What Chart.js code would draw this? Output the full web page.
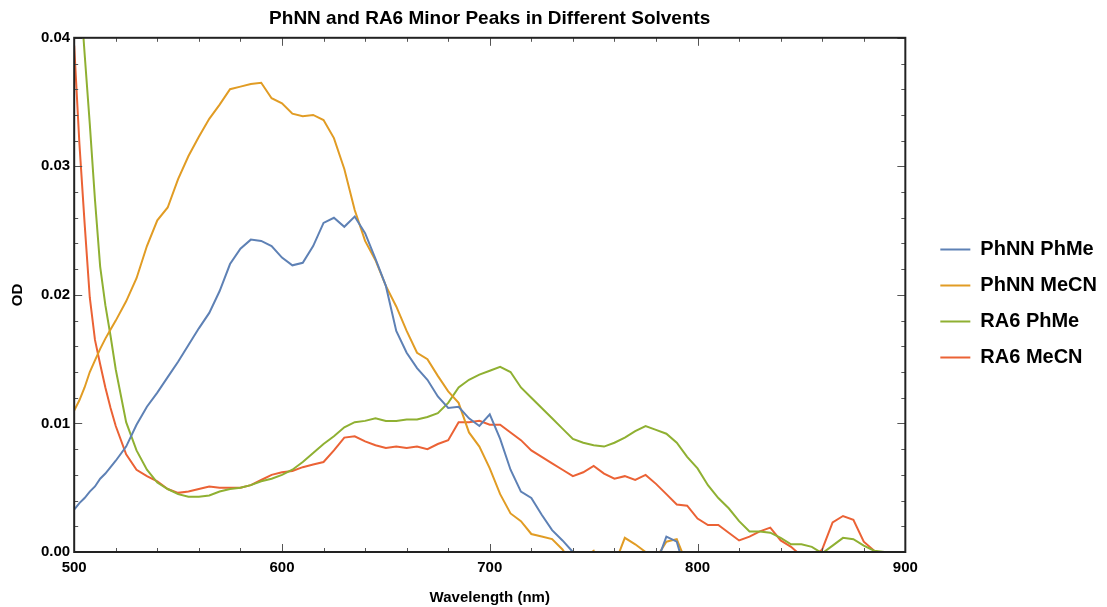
<!DOCTYPE html>
<html>
<head>
<meta charset="utf-8">
<script src="https://cdn.jsdelivr.net/npm/chart.js@4.4.1/dist/chart.umd.min.js"></script>
<style>
  body { margin: 0; background: #fff; }
  #wrap { width: 1107px; height: 607px; }
</style>
</head>
<body>
<div id="wrap"><canvas id="myChart" width="1107" height="607"></canvas></div>
<script>
// wavelength grid (nm)
const wavelengths = [500, 502.5, 505, 507.5, 510, 512.5, 515, 517.5, 520,
  525, 530, 535, 540, 545, 550, 555, 560, 565, 570, 575, 580, 585, 590, 595,
  600, 605, 610, 615, 620, 625, 630, 635, 640, 645, 650, 655, 660, 665, 670, 675,
  680, 685, 690, 695, 700, 705, 710, 715, 720, 725, 730, 735, 740, 745, 750, 755,
  760, 765, 770, 775, 780, 785, 790, 795, 800, 805, 810, 815, 820, 825, 830, 835,
  840, 845, 850, 855, 860, 865, 870, 875, 880, 885, 890, 895, 900];

const phnnPhMe = [0.0033, 0.0038, 0.0042, 0.0047, 0.0051, 0.0057, 0.0061, 0.0066, 0.0071,
  0.0082, 0.0099, 0.0113, 0.0124, 0.0136, 0.0148, 0.0161, 0.0174, 0.0186, 0.0203, 0.0224, 0.0236, 0.0243, 0.0242, 0.0238,
  0.0229, 0.0223, 0.0225, 0.0238, 0.0256, 0.0260, 0.0253, 0.0261, 0.0248, 0.0228, 0.0207, 0.0172, 0.0155, 0.0143, 0.0134, 0.0121,
  0.0112, 0.0113, 0.0104, 0.0098, 0.0107, 0.0088, 0.0064, 0.0047, 0.0042, 0.0029, 0.0017, 0.0009, 0.0000, -0.0010, -0.0020, -0.0025,
  -0.0030, -0.0030, -0.0025, -0.0020, -0.0010, 0.0012, 0.0008, -0.0020, -0.0030, -0.0035, -0.0040, -0.0040, -0.0045, -0.0045, -0.0050, -0.0050,
  -0.0050, -0.0050, -0.0050, -0.0050, -0.0050, -0.0050, -0.0050, -0.0050, -0.0050, -0.0050, -0.0050, -0.0050, -0.0050];

const phnnMeCN = [0.0110, 0.0118, 0.0128, 0.0140, 0.0149, 0.0158, 0.0166, 0.0173, 0.0180,
  0.0195, 0.0213, 0.0238, 0.0258, 0.0268, 0.0290, 0.0308, 0.0323, 0.0337, 0.0348, 0.0360, 0.0362, 0.0364, 0.0365, 0.0353,
  0.0349, 0.0341, 0.0339, 0.0340, 0.0336, 0.0322, 0.0298, 0.0266, 0.0242, 0.0227, 0.0207, 0.0191, 0.0172, 0.0155, 0.0150, 0.0137,
  0.0125, 0.0116, 0.0093, 0.0082, 0.0065, 0.0045, 0.0030, 0.0024, 0.0014, 0.0012, 0.0010, 0.0002, -0.0010, -0.0005, 0.0001, -0.0020,
  -0.0010, 0.0011, 0.0006, 0.0000, -0.0005, 0.0008, 0.0010, -0.0010, -0.0030, -0.0035, -0.0040, -0.0040, -0.0045, -0.0045, -0.0050, -0.0050,
  -0.0050, -0.0050, -0.0050, -0.0050, -0.0050, -0.0050, -0.0050, -0.0050, -0.0050, -0.0050, -0.0050, -0.0050, -0.0050];

const ra6PhMe = [0.0500, 0.0445, 0.0388, 0.0333, 0.0274, 0.0222, 0.0192, 0.0168, 0.0142,
  0.0101, 0.0079, 0.0064, 0.0054, 0.0049, 0.0045, 0.0043, 0.0043, 0.0044, 0.0047, 0.0049, 0.0050, 0.0052, 0.0055, 0.0057,
  0.0060, 0.0064, 0.0070, 0.0077, 0.0084, 0.0090, 0.0097, 0.0101, 0.0102, 0.0104, 0.0102, 0.0102, 0.0103, 0.0103, 0.0105, 0.0108,
  0.0116, 0.0128, 0.0134, 0.0138, 0.0141, 0.0144, 0.0140, 0.0128, 0.0120, 0.0112, 0.0104, 0.0096, 0.0088, 0.0085, 0.0083, 0.0082,
  0.0085, 0.0089, 0.0094, 0.0098, 0.0095, 0.0092, 0.0085, 0.0074, 0.0065, 0.0052, 0.0042, 0.0034, 0.0024, 0.0016, 0.0016, 0.0015,
  0.0011, 0.0006, 0.0006, 0.0004, -0.0001, 0.0005, 0.0011, 0.0010, 0.0005, 0.0001, 0.0000, -0.0002, -0.0005];

const ra6MeCN = [0.0394, 0.0318, 0.0256, 0.0198, 0.0165, 0.0146, 0.0128, 0.0112, 0.0098,
  0.0076, 0.0064, 0.0059, 0.0055, 0.0049, 0.0046, 0.0047, 0.0049, 0.0051, 0.0050, 0.0050, 0.0050, 0.0052, 0.0056, 0.0060,
  0.0062, 0.0063, 0.0066, 0.0068, 0.0070, 0.0079, 0.0089, 0.0090, 0.0086, 0.0083, 0.0081, 0.0082, 0.0081, 0.0082, 0.0080, 0.0084,
  0.0087, 0.0101, 0.0101, 0.0102, 0.0099, 0.0099, 0.0093, 0.0087, 0.0079, 0.0074, 0.0069, 0.0064, 0.0059, 0.0062, 0.0067, 0.0061,
  0.0057, 0.0059, 0.0056, 0.0060, 0.0053, 0.0045, 0.0037, 0.0036, 0.0026, 0.0021, 0.0021, 0.0015, 0.0009, 0.0012, 0.0016, 0.0019,
  0.0009, 0.0004, -0.0003, -0.0005, 0.0002, 0.0023, 0.0028, 0.0025, 0.0008, 0.0001, -0.0002, -0.0005, -0.0005];

const seriesNames = ["PhNN PhMe", "PhNN MeCN", "RA6 PhMe", "RA6 MeCN"];
const seriesColors = ["#5E81B5", "#E19C24", "#8FB032", "#EB6235"];

const fontFamily = "'Liberation Sans', Arial, Helvetica, sans-serif";

// Mathematica-style frame with inward ticks on all four sides
const frameTicks = {
  id: "frameTicks",
  afterDraw(chart) {
    const { ctx, chartArea: a, scales } = chart;
    const xs = scales.x;
    const ys = scales.y;
    ctx.save();
    ctx.strokeStyle = "#555";
    ctx.lineWidth = 1;
    for (let v = 500; v <= 900; v += 20) {
      const px = Math.round(xs.getPixelForValue(v)) + 0.5;
      const len = v % 100 === 0 ? 8 : 4;
      ctx.beginPath();
      ctx.moveTo(px, a.bottom);
      ctx.lineTo(px, a.bottom - len);
      ctx.moveTo(px, a.top);
      ctx.lineTo(px, a.top + len);
      ctx.stroke();
    }
    for (let i = 0; i <= 20; i++) {
      const v = i * 0.002;
      const py = Math.round(ys.getPixelForValue(v)) + 0.5;
      const len = i % 5 === 0 ? 8 : 4;
      ctx.beginPath();
      ctx.moveTo(a.left, py);
      ctx.lineTo(a.left + len, py);
      ctx.moveTo(a.right, py);
      ctx.lineTo(a.right - len, py);
      ctx.stroke();
    }
    ctx.strokeStyle = "#222";
    ctx.lineWidth = 2;
    ctx.strokeRect(a.left, a.top, a.right - a.left, a.bottom - a.top);
    ctx.restore();
  },
};

const datasets = seriesNames.map((name, i) => ({
  label: name,
  data: [phnnPhMe, phnnMeCN, ra6PhMe, ra6MeCN][i],
  borderColor: seriesColors[i],
  backgroundColor: seriesColors[i],
  borderWidth: 2,
  pointRadius: 0,
  tension: 0,
  fill: false,
}));

new Chart(document.getElementById("myChart"), {
  type: "line",
  data: { labels: wavelengths, datasets: datasets },
  options: {
    responsive: false,
    animation: false,
    layout: { padding: { left: 0, right: 0, top: 0, bottom: 0 } },
    plugins: {
      title: {
        display: true,
        text: "PhNN and RA6 Minor Peaks in Different Solvents",
        fullSize: false,
        color: "#000",
        font: { family: fontFamily, size: 19, weight: "bold" },
        padding: { top: 7, bottom: 8 },
      },
      legend: {
        position: "right",
        labels: {
          usePointStyle: true,
          pointStyle: "line",
          pointStyleWidth: 30,
          color: "#000",
          padding: 16,
          font: { family: fontFamily, size: 20, weight: "bold" },
        },
      },
      tooltip: { enabled: false },
    },
    scales: {
      x: {
        type: "linear",
        min: 500,
        max: 900,
        ticks: {
          stepSize: 100,
          color: "#000",
          padding: 7,
          font: { family: fontFamily, size: 15, weight: "bold" },
        },
        grid: { display: false, drawTicks: false, tickLength: 0 },
        border: { display: false },
        title: {
          display: true,
          text: "Wavelength (nm)",
          color: "#000",
          font: { family: fontFamily, size: 15, weight: "bold" },
          padding: { top: 5, bottom: 0 },
        },
      },
      y: {
        min: 0,
        max: 0.04,
        ticks: {
          stepSize: 0.01,
          color: "#000",
          padding: 4,
          font: { family: fontFamily, size: 15, weight: "bold" },
          callback: (v) => v.toFixed(2),
        },
        grid: { display: false, drawTicks: false, tickLength: 0 },
        border: { display: false },
        title: {
          display: true,
          text: "OD",
          color: "#000",
          font: { family: fontFamily, size: 15, weight: "bold" },
          padding: { top: 9, bottom: 10 },
        },
      },
      // empty spacer between the frame and the legend
      gap: {
        position: "right",
        display: true,
        grid: { display: false, drawTicks: false, tickLength: 0 },
        border: { display: false },
        ticks: { display: false },
        afterFit: (scale) => {
          scale.width = 19;
        },
      },
    },
  },
  plugins: [frameTicks],
});
</script>
</body>
</html>
